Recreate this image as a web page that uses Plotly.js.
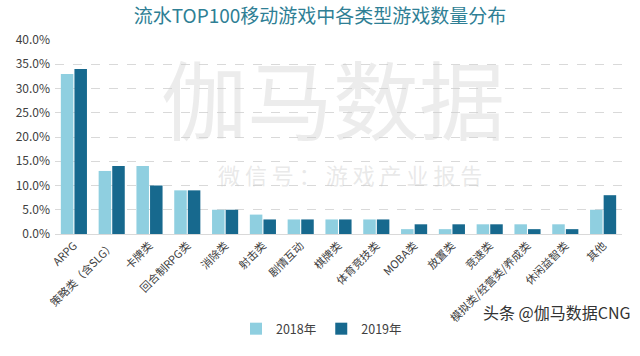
<!DOCTYPE html>
<html><head><meta charset="utf-8">
<script src="https://cdn.plot.ly/plotly-3.0.1.min.js"></script>
<style>body{margin:0;background:#fff}#c{width:640px;height:356px}</style>
</head><body><div id="c"></div>
<script>
const categories = ['ARPG','策略类（含SLG）','卡牌类','回合制RPG类','消除类','射击类','剧情互动','棋牌类','体育竞技类','MOBA类','放置类','竞速类','模拟类/经营类/养成类','休闲益智类','其他'];
const values2018 = [0.33,0.13,0.14,0.09,0.05,0.04,0.03,0.03,0.03,0.01,0.01,0.02,0.02,0.02,0.05];
const values2019 = [0.34,0.14,0.10,0.09,0.05,0.03,0.03,0.03,0.03,0.02,0.02,0.02,0.01,0.01,0.08];
const yTicks = [0,0.05,0.10,0.15,0.20,0.25,0.30,0.35,0.40];
const font = '"Noto Sans CJK SC", "Noto Sans", sans-serif';
const data = [
  {type:'bar', name:'2018年', x:categories, y:values2018, marker:{color:'#8fcfe0'}},
  {type:'bar', name:'2019年', x:categories, y:values2019, marker:{color:'#17698e'}}
];
const layout = {
  width:640, height:356,
  margin:{l:55, r:18, t:40, b:110},
  paper_bgcolor:'#fff', plot_bgcolor:'#fff',
  font:{family:font, color:'#595959', size:11},
  title:{text:'流水TOP100移动游戏中各类型游戏数量分布', x:0.5, xanchor:'center', y:0.955, yanchor:'middle', font:{family:font, size:19, color:'#2f7f95'}},
  barmode:'group', bargap:0.28, bargroupgap:0.08,
  xaxis:{tickangle:-45, tickfont:{size:11, color:'#404040'}, showline:true, linecolor:'#d9d9d9', ticks:'', automargin:false},
  yaxis:{range:[0,0.4], tickvals:yTicks, tickformat:'.1%', tickfont:{size:12, color:'#404040'}, ticklabelstandoff:4, showgrid:true, gridcolor:'#d9d9d9', griddash:'dash', zeroline:false, showline:false, automargin:false},
  legend:{orientation:'h', x:0.47, xanchor:'center', y:-0.49, yanchor:'middle', font:{size:12.5, color:'#404040'}, itemwidth:30, traceorder:'normal'},
  showlegend:true,
  annotations:[
    {text:'伽马数据', xref:'paper', yref:'paper', x:0.49, y:0.71, yanchor:'middle', showarrow:false, font:{family:font, size:86, color:'rgba(205,205,205,0.38)'}},
    {text:'微 信 号 ： 游 戏 产 业 报 告', xref:'paper', yref:'paper', x:0.52, y:0.31, yanchor:'middle', showarrow:false, font:{family:font, size:22, color:'rgba(205,205,205,0.45)'}},
    {text:'头条 @伽马数据CNG', xref:'paper', yref:'paper', x:1.02, xanchor:'right', y:-0.40, yanchor:'middle', showarrow:false, font:{family:font, size:16, color:'#333'}}
  ]
};
Plotly.newPlot('c', data, layout, {displayModeBar:false, staticPlot:true});
</script></body></html>
